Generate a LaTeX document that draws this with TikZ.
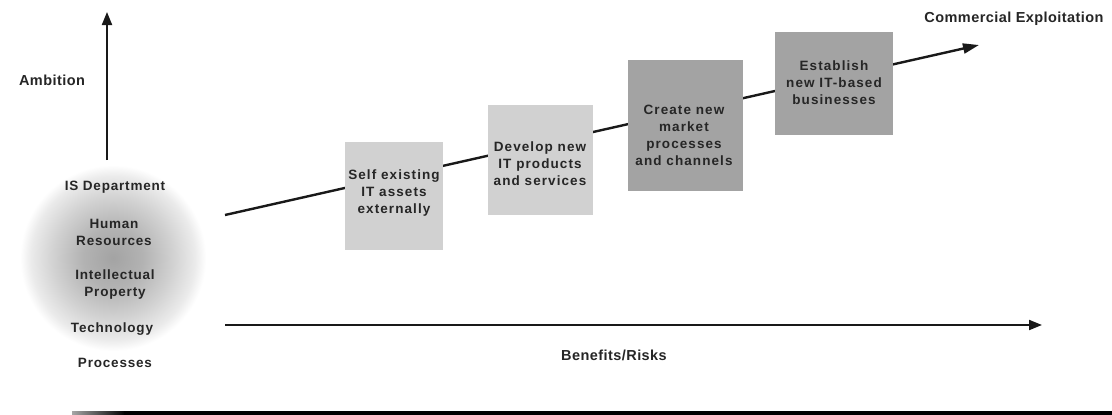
\documentclass[tikz,border=0pt]{standalone}
\usepackage{fontspec}
\setmainfont{Liberation Sans}
\usetikzlibrary{arrows.meta}
\pgfdeclareradialshading{ballshade}{\pgfpoint{0bp}{0bp}}{color(0bp)=(black!36); color(8bp)=(black!30); color(16bp)=(black!18); color(22bp)=(black!8); color(25bp)=(white); color(50bp)=(white)}
\begin{document}
\begin{tikzpicture}[x=1pt,y=-1pt,
  lbl/.style={font=\fontsize{13.5}{17}\selectfont\bfseries\addfontfeature{LetterSpace=6}, align=center, text=black!85},
  hdr/.style={font=\fontsize{14.5}{17}\selectfont\bfseries\addfontfeature{LetterSpace=3}, text=black!85},
  boxtxt/.style={font=\fontsize{13.5}{17}\selectfont\bfseries\addfontfeature{LetterSpace=8}, align=center, text=black!85},
  lightbox/.style={fill=black!18, inner sep=0pt},
  darkbox/.style={fill=black!36, inner sep=0pt},
  axis/.style={line width=2pt, draw=black!90, -{Triangle[length=13pt,width=10pt]}},
  diag/.style={line width=2.4pt, draw=black!90, -{Triangle[length=16pt,width=10pt]}}]
\useasboundingbox (0,0) rectangle (1112,415);
\fill[white] (0,0) rectangle (1112,415);
% shaded resource ball
\node[circle, minimum size=186pt, inner sep=0pt, shading=ballshade] (ball) at (113,258) {};
\node[lbl] (isd) at (115,187) {IS Department};
\node[lbl] (hr) at (114,232) {Human\\Resources};
\node[lbl] (ip) at (115,285) {Intellectual\\Property};
\node[lbl] (tech) at (112,329) {Technology};
\node[lbl] (proc) at (115,363) {Processes};
% vertical axis
\coordinate (v0) at (107,160);
\coordinate (v1) at (107,12);
\draw[axis] (v0) -- (v1);
\node[hdr] (amb) at (52,80) {Ambition};
% horizontal axis
\coordinate (h0) at (225,325);
\coordinate (h1) at (1042,325);
\draw[axis] (h0) -- (h1);
\node[hdr] (ben) at (614,355) {Benefits/Risks};
% diagonal arrow
\coordinate (d0) at (225,215);
\coordinate (d1) at (979,45);
\draw[diag] (d0) -- (d1);
\node[hdr] (ce) at (1014,19) {Commercial Exploitation};
% boxes
\node[lightbox, minimum width=98pt, minimum height=108pt] (b1) at (394,196) {};
\node[boxtxt] (t1) at (394,193) {Self existing\\IT assets\\externally};
\node[lightbox, minimum width=105pt, minimum height=110pt] (b2) at (540.5,160) {};
\node[boxtxt] (t2) at (540,164) {Develop new\\IT products\\and services};
\node[darkbox, minimum width=115pt, minimum height=131pt] (b3) at (685.5,125) {};
\node[boxtxt] (t3) at (684,135) {Create new\\market\\processes\\and channels};
\node[darkbox, minimum width=118pt, minimum height=103pt] (b4) at (834,83.5) {};
\node[boxtxt] (t4) at (834,83) {Establish\\new IT-based\\businesses};
% bottom rule
\shade[left color=black!35, right color=black] (72,411) rectangle (125,415);
\fill[black] (124,411) rectangle (1112,415);
\end{tikzpicture}
\end{document}
